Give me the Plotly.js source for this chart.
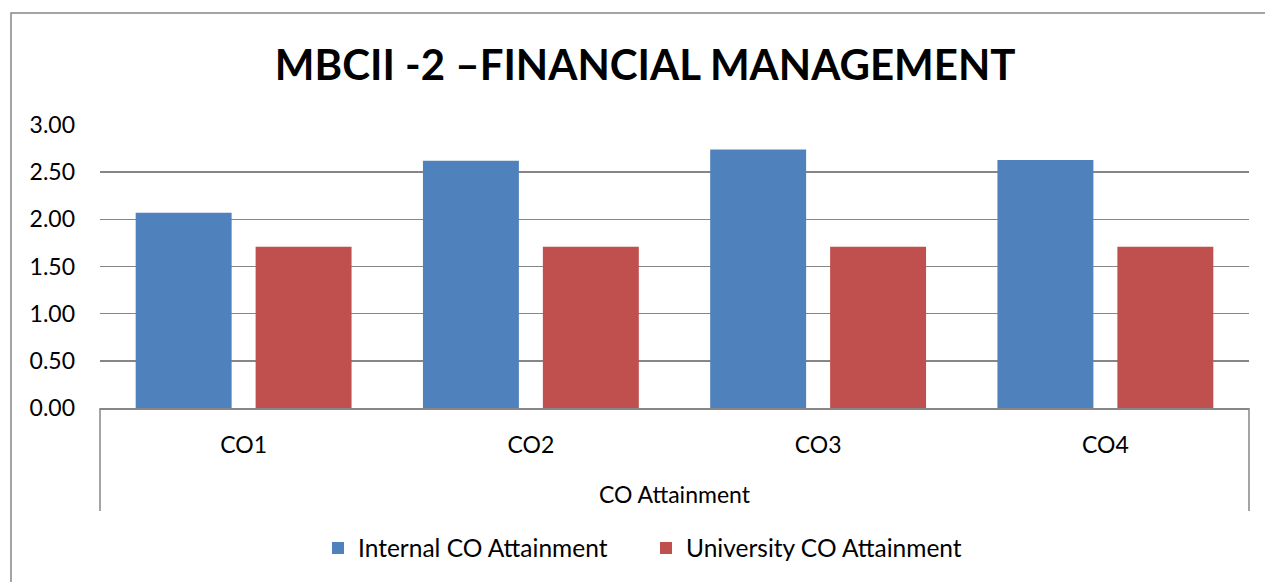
<!DOCTYPE html>
<html>
<head>
<meta charset="utf-8">
<script src="https://cdn.plot.ly/plotly-3.0.1.min.js"></script>
<style>html,body{margin:0;padding:0;background:#fff;}#chart{width:1265px;height:582px;}</style>
</head>
<body>
<div id="chart"></div>
<script>
const categories = ["CO1", "CO2", "CO3", "CO4"];
const internalCO = [2.07, 2.62, 2.74, 2.63];
const universityCO = [1.71, 1.71, 1.71, 1.71];
const seriesNames = ["Internal CO Attainment", "University CO Attainment"];
const yTicks = [0, 0.5, 1, 1.5, 2, 2.5, 3];
const yTickLabels = ["0.00", "0.50", "1.00", "1.50", "2.00", "2.50", "3.00"];
const titleText = "MBCII -2 \u2013FINANCIAL MANAGEMENT";
const axisTitle = "CO Attainment";

const FONT = "Lato, 'Open Sans', sans-serif";
const data = [
  {type: "bar", x: categories, y: internalCO, name: seriesNames[0],
   marker: {color: "#4F81BD", line: {color: "#fff", width: 0}}, hoverinfo: "y"},
  {type: "bar", x: categories, y: universityCO, name: seriesNames[1],
   marker: {color: "#C0504D", line: {color: "#fff", width: 0}}, hoverinfo: "y"}
];
const layout = {
  width: 1265, height: 582,
  margin: {l: 100, r: 16, t: 125, b: 174},
  paper_bgcolor: "#fff", plot_bgcolor: "#fff",
  font: {family: FONT, size: 23, color: "#000"},
  title: {text: "<b>" + titleText + "</b>", font: {family: FONT, size: 42, color: "#000"},
          xref: "container", yref: "container", x: 0.51, y: 1 - 65/582, xanchor: "center", yanchor: "middle"},
  barmode: "group", bargap: 0.165, bargroupgap: 0.2,
  xaxis: {type: "category", showgrid: false, showline: true, linecolor: "#868686", linewidth: 1.5,
          ticks: "", ticklabelstandoff: 16, tickfont: {size: 23},
          title: {text: axisTitle, standoff: 30, font: {size: 23}}, automargin: false, fixedrange: true},
  yaxis: {range: [0, 3], tickvals: yTicks, ticktext: yTickLabels, showgrid: true, gridcolor: "#868686", gridwidth: 1.5,
          zeroline: false, showline: false, ticks: "", ticklabelstandoff: 24, tickfont: {size: 23},
          automargin: false, fixedrange: true},
  showlegend: true,
  legend: {orientation: "h", xref: "container", yref: "container", x: 318/1265, y: 1 - 548/582,
           xanchor: "left", yanchor: "middle", font: {size: 24.5}, itemwidth: 30, entrywidth: 283,
           traceorder: "normal"},
  shapes: [
    {type: "line", xref: "paper", yref: "paper", x0: 0, x1: 0, y0: 0, y1: -103/283, line: {color: "#868686", width: 1.5}},
    {type: "line", xref: "paper", yref: "paper", x0: 1, x1: 1, y0: 0, y1: -103/283, line: {color: "#868686", width: 1.5}},
    {type: "rect", xref: "paper", yref: "paper", x0: -89/1149, x1: 1.03, y0: -0.8, y1: 395/283, line: {color: "#868686", width: 1.5}, fillcolor: "rgba(0,0,0,0)", layer: "below"}
  ]
};
Plotly.newPlot("chart", data, layout, {displayModeBar: false, staticPlot: true});
</script>
</body>
</html>
